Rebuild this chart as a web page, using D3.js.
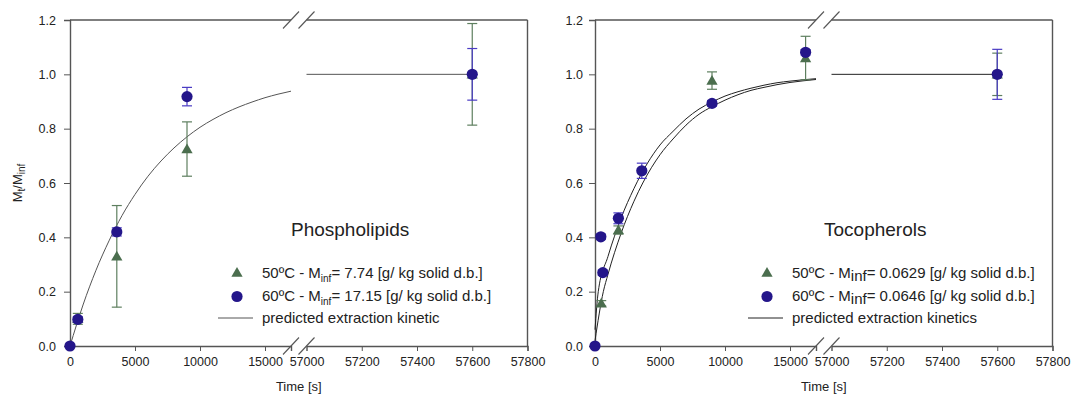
<!DOCTYPE html>
<html><head><meta charset="utf-8">
<script src="https://cdn.jsdelivr.net/npm/d3@7"></script>
<style>
body{margin:0;background:#fff;}
svg{display:block;font-family:Arial,"Liberation Sans",sans-serif;}
</style></head>
<body><svg id="c" width="1071" height="394"></svg>
<script>
// ---------- data ----------
const yTicks = [0, 0.2, 0.4, 0.6, 0.8, 1.0, 1.2];
const xTicksLeft = [0, 5000, 10000, 15000];
const xTicksRight = [57000, 57200, 57400, 57600, 57800];

// Phospholipids
const phos50Time = [600, 3600, 9000, 57600];
const phos50Val  = [0.10, 0.33, 0.725, 1.0];
const phos50Err  = [0.02, 0.187, 0.10, 0.187];
const phos60Time = [0, 600, 3600, 9000, 57600];
const phos60Val  = [0, 0.098, 0.42, 0.918, 1.0];
const phos60Err  = [0, 0.01, 0.015, 0.034, 0.095];
const phosCurveTime = [0,1000,2000,3000,4000,5000,6000,7000,8000,9000,10000,11000,12000,13000,14000,15000,16000,17000];
const phosCurveVal  = [0,0.151,0.279,0.387,0.480,0.558,0.625,0.681,0.729,0.770,0.805,0.834,0.859,0.880,0.898,0.914,0.927,0.938];

// Tocopherols
const toco50Time = [480, 1800, 9000, 16200, 57600];
const toco50Val  = [0.157, 0.427, 0.977, 1.06, 1.0];
const toco50Err  = [0.01, 0.015, 0.032, 0.08, 0.078];
const toco60Time = [0, 450, 600, 1800, 3600, 9000, 16200, 57600];
const toco60Val  = [0, 0.402, 0.27, 0.47, 0.645, 0.893, 1.081, 1.0];
const toco60Err  = [0, 0.01, 0.01, 0.02, 0.028, 0.01, 0.01, 0.092];
const tocoCurveTime = [0,250,1000,2000,3000,4000,5000,6000,7000,8000,9000,10000,11000,12000,13000,14000,15000,16000,17000];
const tocoCurveAVal = [0.06,0.20,0.33,0.47,0.58,0.67,0.74,0.79,0.836,0.872,0.898,0.920,0.936,0.949,0.960,0.969,0.975,0.980,0.984];
const tocoCurveBTime = [0,640,1000,2000,3000,3675,5000,6000,7000,8000,9000,10000,11000,12000,13000,14000,15000,16000,17000];
const tocoCurveBVal  = [0.02,0.20,0.264,0.414,0.533,0.60,0.704,0.762,0.813,0.853,0.881,0.905,0.925,0.941,0.952,0.962,0.970,0.976,0.981];

const plateauTime = [57000, 57600];
const plateauVal = [1.0, 1.0];

// ---------- drawing ----------
const svg = d3.select("#c");
const GREEN = "#4b6e4e", GREENBAR = "#5e7f5f", BLUE = "#24168a", BLUEBAR = "#4a3bc4";
const AXIS = "#555", TXT = "#222";
const TOP = 20, BOTTOM = 346;

function panel(cfg){
  const x0 = cfg.x0;
  const xL = d3.scaleLinear().domain([0,17000]).range([x0, x0+221]);
  const xR = d3.scaleLinear().domain([57000,57800]).range([x0+236.5, x0+457.5]);
  const y = d3.scaleLinear().domain([0,1.2]).range([BOTTOM, TOP]);
  const X = t => t <= 17000 ? xL(t) : xR(t);
  const g = svg.append("g");

  // axes
  const fmt = d3.format("d");
  const axL = g.append("g").attr("transform",`translate(0,${BOTTOM})`)
    .call(d3.axisBottom(xL).tickValues(xTicksLeft).tickFormat(fmt).tickSizeOuter(0).tickSize(5).tickPadding(6));
  const axR = g.append("g").attr("transform",`translate(0,${BOTTOM})`)
    .call(d3.axisBottom(xR).tickValues(xTicksRight).tickFormat(fmt).tickSizeOuter(0).tickSize(5).tickPadding(6));
  const axY = g.append("g").attr("transform",`translate(${x0},0)`)
    .call(d3.axisLeft(y).tickValues(yTicks).tickFormat(d3.format(".1f")).tickSizeOuter(0).tickSize(6).tickPadding(cfg.ypad));
  [axL,axR,axY].forEach(a=>{
    a.selectAll("path.domain").attr("stroke",AXIS).attr("stroke-width",1.4);
    a.selectAll(".tick line").attr("stroke",AXIS).attr("stroke-width",1);
    a.selectAll("text").attr("fill",TXT).style("font-size","12.5px").style("font-family","Arial,'Liberation Sans',sans-serif");
  });
  axR.selectAll(".tick").filter(d=>d===57000).select("line").remove();
  // top & right frame
  g.append("line").attr("x1",xL.range()[0]).attr("x2",xL.range()[1]).attr("y1",TOP).attr("y2",TOP).attr("stroke",AXIS).attr("stroke-width",1.4);
  g.append("line").attr("x1",xR.range()[0]).attr("x2",xR.range()[1]).attr("y1",TOP).attr("y2",TOP).attr("stroke",AXIS).attr("stroke-width",1.4);
  g.append("line").attr("x1",xR.range()[1]).attr("x2",xR.range()[1]).attr("y1",TOP).attr("y2",BOTTOM).attr("stroke",AXIS).attr("stroke-width",1.4);
  // break marks
  [TOP,BOTTOM].forEach(yy=>{
    [xL.range()[1], xR.range()[0]].forEach(xx=>{
      g.append("line").attr("x1",xx-8).attr("y1",yy+8.5).attr("x2",xx+8).attr("y2",yy-8.5)
        .attr("stroke",AXIS).attr("stroke-width",1.1);
    });
  });

  // axis titles
  g.append("text").attr("x",(xL.range()[1]+xR.range()[0])/2).attr("y",391).attr("text-anchor","middle")
    .attr("fill",TXT).style("font-size","13px").text("Time [s]");

  // curves
  const line = d3.line().x(d=>X(d[0])).y(d=>y(d[1])).curve(d3.curveMonotoneX);
  cfg.curves.forEach(c=>{
    g.append("path").datum(d3.zip(c.t,c.v)).attr("d",line).attr("fill","none")
      .attr("stroke",cfg.curveColor).attr("stroke-width",1);
  });
  g.append("path").datum(d3.zip(plateauTime,plateauVal)).attr("d",line).attr("fill","none")
    .attr("stroke",cfg.curveColor).attr("stroke-width",1);

  // series
  function errbars(t,v,e,color){
    const d = d3.zip(t,v,e).filter(r=>r[2]>0);
    const eg = g.append("g").attr("stroke",color).attr("stroke-width",1.2);
    eg.selectAll("line.v").data(d).join("line").attr("x1",r=>X(r[0])).attr("x2",r=>X(r[0]))
      .attr("y1",r=>y(r[1]-r[2])).attr("y2",r=>y(r[1]+r[2]));
    eg.selectAll("line.t").data(d).join("line").attr("x1",r=>X(r[0])-5).attr("x2",r=>X(r[0])+5)
      .attr("y1",r=>y(r[1]+r[2])).attr("y2",r=>y(r[1]+r[2]));
    eg.selectAll("line.b").data(d).join("line").attr("x1",r=>X(r[0])-5).attr("x2",r=>X(r[0])+5)
      .attr("y1",r=>y(r[1]-r[2])).attr("y2",r=>y(r[1]-r[2]));
  }
  const tri = d3.symbol().type(d3.symbolTriangle).size(55);
  errbars(cfg.s50.t,cfg.s50.v,cfg.s50.e,GREENBAR);
  g.append("g").selectAll("path").data(d3.zip(cfg.s50.t,cfg.s50.v)).join("path")
    .attr("d",tri).attr("transform",r=>`translate(${X(r[0])},${y(r[1])+1})`).attr("fill",GREEN);
  errbars(cfg.s60.t,cfg.s60.v,cfg.s60.e,BLUEBAR);
  g.append("g").selectAll("circle").data(d3.zip(cfg.s60.t,cfg.s60.v)).join("circle")
    .attr("cx",r=>X(r[0])).attr("cy",r=>y(r[1])).attr("r",5.6).attr("fill",BLUE);

  // title & legend
  g.append("text").attr("x",cfg.titleX).attr("y",236).attr("fill",TXT).style("font-size","19px").text(cfg.title);
  const lx = cfg.legX;
  g.append("path").attr("d",tri).attr("transform",`translate(${lx+19},${273.5})`).attr("fill",GREEN);
  g.append("circle").attr("cx",lx+19).attr("cy",296.5).attr("r",5.6).attr("fill",BLUE);
  g.append("line").attr("x1",lx).attr("x2",lx+35).attr("y1",318).attr("y2",318).attr("stroke",cfg.curveColor).attr("stroke-width",1);
  cfg.legend.forEach((L,i)=>{
    const t = g.append("text").attr("x",lx+44).attr("y",278+i*22.5).attr("fill",TXT).style("font-size","15px");
    t.append("tspan").text(L[0]);
    if(L.length>1){
      t.append("tspan").attr("dy",cfg.subDy).style("font-size",cfg.subSize).text("inf");
      t.append("tspan").attr("dy",-cfg.subDy).text(L[1]);
    }
  });
}

panel({x0:70, ypad:8, title:"Phospholipids", titleX:291, legX:218, curveColor:"#555",
  subDy:4, subSize:"10px",
  curves:[{t:phosCurveTime,v:phosCurveVal}],
  s50:{t:phos50Time,v:phos50Val,e:phos50Err}, s60:{t:phos60Time,v:phos60Val,e:phos60Err},
  legend:[["50ºC - M","= 7.74 [g/ kg solid d.b.]"],["60ºC - M","= 17.15 [g/ kg solid d.b.]"],["predicted extraction kinetic"]]});

panel({x0:595, ypad:6, title:"Tocopherols", titleX:824, legX:748, curveColor:"#222",
  subDy:3, subSize:"15px",
  curves:[{t:tocoCurveTime,v:tocoCurveAVal},{t:tocoCurveBTime,v:tocoCurveBVal}],
  s50:{t:toco50Time,v:toco50Val,e:toco50Err}, s60:{t:toco60Time,v:toco60Val,e:toco60Err},
  legend:[["50ºC - M","= 0.0629 [g/ kg solid d.b.]"],["60ºC - M","= 0.0646 [g/ kg solid d.b.]"],["predicted extraction kinetics"]]});

// y axis title (left panel only)
const yt = svg.append("text").attr("transform","translate(22,183) rotate(-90)").attr("text-anchor","middle")
  .attr("fill",TXT).style("font-size","13px");
yt.append("tspan").text("M");
yt.append("tspan").attr("dy",3).style("font-size","10px").text("t");
yt.append("tspan").attr("dy",-3).text("/M");
yt.append("tspan").attr("dy",3).style("font-size","10px").text("inf");
</script></body></html>
